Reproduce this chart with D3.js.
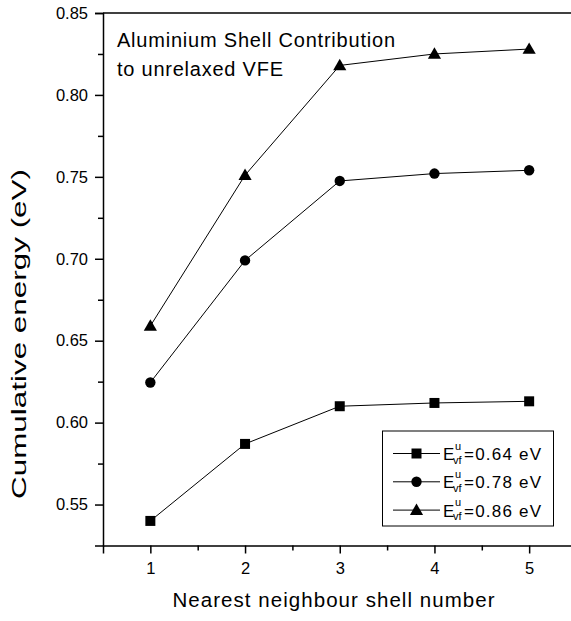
<!DOCTYPE html>
<html>
<head>
<meta charset="utf-8">
<script src="https://cdn.jsdelivr.net/npm/d3@7"></script>
<style>
  html, body { margin: 0; padding: 0; background: #fff; }
  svg { display: block; font-family: "Liberation Sans", Arial, sans-serif; }
</style>
</head>
<body>
<svg id="chart" width="571" height="621"></svg>
<script>
// Cumulative energy per nearest-neighbour shell
const shells = [1, 2, 3, 4, 5];
const seriesE064 = [0.540, 0.587, 0.610, 0.612, 0.613];
const seriesE078 = [0.6245, 0.699, 0.7475, 0.752, 0.754];
const seriesE086 = [0.659, 0.751, 0.818, 0.825, 0.828];
const seriesValues = ["0.64", "0.78", "0.86"];
const seriesShapes = ["square", "circle", "triangle"];
const yTicks = [0.55, 0.60, 0.65, 0.70, 0.75, 0.80, 0.85];
const yMinorTicks = [0.575, 0.625, 0.675, 0.725, 0.775, 0.825];
const xTicks = [1, 2, 3, 4, 5];
const xMinorTicks = [1.5, 2.5, 3.5, 4.5];

const series = [seriesE064, seriesE078, seriesE086].map((vals, i) => ({
  value: seriesValues[i],
  shape: seriesShapes[i],
  points: shells.map((s, j) => ({ x: s, y: vals[j] }))
}));

const svg = d3.select("#chart");
const plotLeft = 103, plotTop = 13, plotBottom = 545.5;
const x = d3.scaleLinear().domain([0.5, 5.5]).range([plotLeft, 576.5]);
const y = d3.scaleLinear().domain([0.525, 0.85]).range([plotBottom, plotTop]);

// frame top line
svg.append("line")
  .attr("x1", plotLeft).attr("x2", 571).attr("y1", plotTop).attr("y2", plotTop)
  .attr("stroke", "#000").attr("stroke-width", 1.5);

// y axis
svg.append("g").attr("transform", `translate(${plotLeft},0)`)
  .call(d3.axisLeft(y).tickValues(yTicks).tickFormat(d3.format(".2f")).tickSize(8).tickPadding(7));
svg.append("g").attr("transform", `translate(${plotLeft},0)`)
  .call(d3.axisLeft(y).tickValues(yMinorTicks).tickFormat("").tickSize(5))
  .select(".domain").remove();

// x axis
svg.append("g").attr("transform", `translate(0,${plotBottom})`)
  .call(d3.axisBottom(x).tickValues(xTicks).tickFormat(d3.format("d")).tickSize(8).tickPadding(9));
svg.append("g").attr("transform", `translate(0,${plotBottom})`)
  .call(d3.axisBottom(x).tickValues(xMinorTicks).tickFormat("").tickSize(5))
  .select(".domain").remove();

svg.selectAll(".domain").attr("stroke-width", 1.5);
svg.selectAll(".tick line").attr("stroke-width", 1.5);
svg.selectAll(".tick text").attr("font-size", 16.5).attr("fill", "#000")
  .attr("font-family", "Liberation Sans, Arial, sans-serif");

// axis titles
svg.append("text")
  .attr("x", 333.5).attr("y", 606.5)
  .attr("text-anchor", "middle").attr("font-size", 20.5)
  .attr("textLength", 322).attr("lengthAdjust", "spacing")
  .text("Nearest neighbour shell number");
svg.append("text")
  .attr("transform", "translate(25.5,334) rotate(-90)")
  .attr("text-anchor", "middle").attr("font-size", 20)
  .attr("textLength", 330).attr("lengthAdjust", "spacingAndGlyphs")
  .text("Cumulative energy (eV)");

// annotation
const note = svg.append("g").attr("font-size", 20);
note.append("text").attr("x", 117).attr("y", 47)
  .attr("textLength", 278).attr("lengthAdjust", "spacing")
  .text("Aluminium Shell Contribution");
note.append("text").attr("x", 117).attr("y", 76)
  .attr("textLength", 166).attr("lengthAdjust", "spacing")
  .text("to unrelaxed VFE");

// marker symbols
const symbolFor = {
  square: d3.symbol().type(d3.symbolSquare).size(100),
  circle: d3.symbol().type(d3.symbolCircle).size(85),
  triangle: d3.symbol().type(d3.symbolTriangle).size(75)
};

const line = d3.line().x(d => x(d.x)).y(d => y(d.y));
series.forEach(s => {
  svg.append("path").datum(s.points)
    .attr("d", line).attr("fill", "none").attr("stroke", "#000").attr("stroke-width", 1);
  svg.append("g").selectAll("path").data(s.points).join("path")
    .attr("transform", d => `translate(${x(d.x)},${y(d.y) + (s.shape === "triangle" ? 1 : 0)})`)
    .attr("d", symbolFor[s.shape]()).attr("fill", "#000");
});

// legend
const lg = svg.append("g");
lg.append("rect").attr("x", 382.5).attr("y", 431).attr("width", 171).attr("height", 95)
  .attr("fill", "#fff").attr("stroke", "#000").attr("stroke-width", 1);
series.forEach((s, i) => {
  const cy = 453.5 + i * 28.3;
  lg.append("line").attr("x1", 393).attr("x2", 440).attr("y1", cy).attr("y2", cy)
    .attr("stroke", "#000").attr("stroke-width", 1);
  lg.append("path").attr("transform", `translate(416.5,${cy + (s.shape === "triangle" ? 1 : 0)})`)
    .attr("d", symbolFor[s.shape]()).attr("fill", "#000");
  lg.append("text").attr("x", 443).attr("y", cy + 6.5).attr("font-size", 17).text("E");
  lg.append("text").attr("x", 455).attr("y", cy - 4).attr("font-size", 11).text("u");
  lg.append("text").attr("x", 453).attr("y", cy + 10).attr("font-size", 11).text("vf");
  lg.append("text").attr("x", 464).attr("y", cy + 6.5).attr("font-size", 17)
    .attr("textLength", 77).attr("lengthAdjust", "spacing")
    .text("=" + s.value + " eV");
});
</script>
</body>
</html>
